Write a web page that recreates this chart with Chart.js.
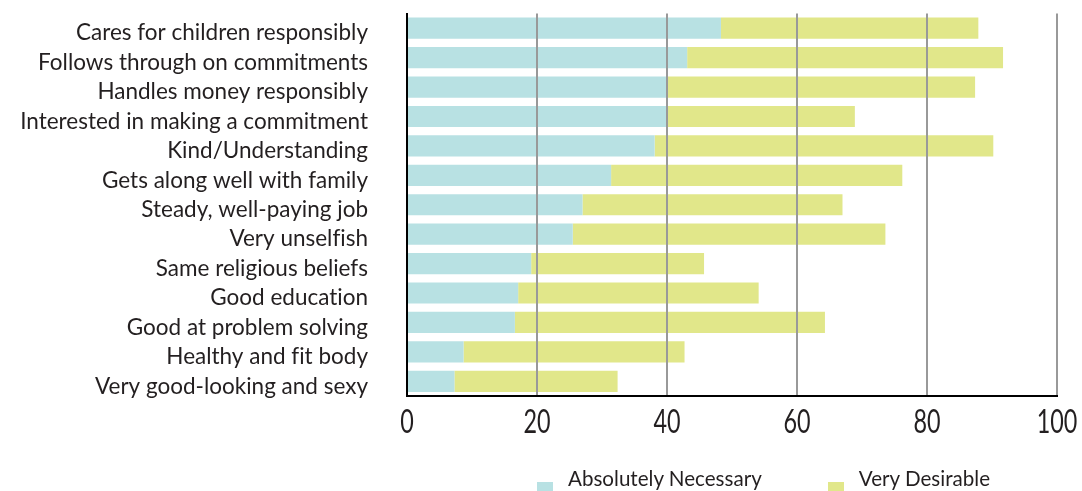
<!DOCTYPE html>
<html>
<head>
<meta charset="utf-8">
<script src="https://cdn.jsdelivr.net/npm/chart.js@4"></script>
<style>
  html, body { margin: 0; padding: 0; background: #fff; overflow: hidden; }
  #wrap { position: relative; width: 1082px; height: 491px; }
  #legend {
    position: absolute;
    left: 537px;
    top: 465px;
    display: flex;
    align-items: flex-start;
    font-family: Lato, sans-serif;
    font-size: 20.6px;
    line-height: 26px;
    color: #231f20;
    white-space: nowrap;
  }
  .legend-item { display: flex; align-items: flex-start; }
  .legend-item + .legend-item { margin-left: 66px; }
  .legend-box { width: 16px; height: 16px; margin: 17px 15px 0 0; }
</style>
</head>
<body>
<div id="wrap">
  <canvas id="chart" width="1082" height="491"></canvas>
  <div id="legend"></div>
</div>
<script>
const categories = [
  'Cares for children responsibly',
  'Follows through on commitments',
  'Handles money responsibly',
  'Interested in making a commitment',
  'Kind/Understanding',
  'Gets along well with family',
  'Steady, well-paying job',
  'Very unselfish',
  'Same religious beliefs',
  'Good education',
  'Good at problem solving',
  'Healthy and fit body',
  'Very good-looking and sexy'
];

// percent of respondents
const absolutelyNecessary = [48.3, 43.1, 40, 40, 38.1, 31.4, 27, 25.5, 19.1, 17.1, 16.6, 8.7, 7.3];
const veryDesirable = [39.6, 48.6, 47.4, 28.9, 52.1, 44.8, 40, 48.1, 26.6, 37, 47.7, 34, 25.1];

const xTicks = [0, 20, 40, 60, 80, 100];

const seriesColors = ['#b8e1e3', '#e1e78a'];
const textColor = '#231f20';

const datasets = [
  { label: 'Absolutely Necessary', data: absolutelyNecessary },
  { label: 'Very Desirable', data: veryDesirable }
].map((set, i) => ({
  ...set,
  backgroundColor: seriesColors[i],
  borderWidth: 0,
  barPercentage: 0.72,
  categoryPercentage: 1
}));

// the x axis numbers in the original are a condensed face: squeeze them.
// only the x scale layers (z 1) are drawn after the bars.
const narrowTicks = {
  id: 'narrowTicks',
  beforeDraw(chart) {
    chart.ctx.textRendering = 'optimizeSpeed'; // no fi / ti ligatures
  },
  afterDatasetsDraw(chart) {
    const ctx = chart.ctx;
    const fillText = CanvasRenderingContext2D.prototype.fillText;
    ctx.fillText = function (text, x, y) {
      fillText.call(this, text, x, y, this.measureText(text).width * 0.73);
    };
  },
  afterDraw(chart) {
    delete chart.ctx.fillText;
  }
};

new Chart(document.getElementById('chart'), {
  type: 'bar',
  data: { labels: categories, datasets },
  plugins: [narrowTicks],
  options: {
    indexAxis: 'y',
    responsive: false,
    animation: false,
    layout: { padding: { top: 11, right: 25, bottom: 51, left: 0 } },
    plugins: {
      legend: { display: false },
      tooltip: { enabled: false }
    },
    scales: {
      x: {
        stacked: true,
        min: xTicks[0],
        max: xTicks[xTicks.length - 1],
        afterBuildTicks: (scale) => {
          scale.ticks = xTicks.map((value) => ({ value }));
        },
        border: { color: '#000', width: 2, z: 1 },
        grid: {
          color: (ctx) => (ctx.tick && ctx.tick.value === 0 ? 'rgba(0,0,0,0)' : '#999'),
          lineWidth: 2,
          drawTicks: false,
          z: 1
        },
        ticks: {
          color: textColor,
          padding: 7,
          z: 1,
          font: { family: 'Lato, sans-serif', size: 32 }
        },
        afterFit: (scale) => {
          scale.height = 44;
          scale.paddingLeft = 0;
          scale.paddingRight = 0;
        }
      },
      y: {
        stacked: true,
        border: { color: '#000', width: 2 },
        grid: { display: false, drawTicks: true, tickLength: 39 },
        ticks: {
          color: textColor,
          padding: 0,
          autoSkip: false,
          labelOffset: 5,
          font: { family: 'Lato, sans-serif', size: 22.5 }
        },
        afterFit: (scale) => {
          scale.width = 407;
        }
      }
    }
  }
});

document.getElementById('legend').innerHTML = datasets
  .map(
    (set) => `
      <div class="legend-item">
        <span class="legend-box" style="background:${set.backgroundColor}"></span>
        <span>${set.label}</span>
      </div>
    `
  )
  .join('');
</script>
</body>
</html>
